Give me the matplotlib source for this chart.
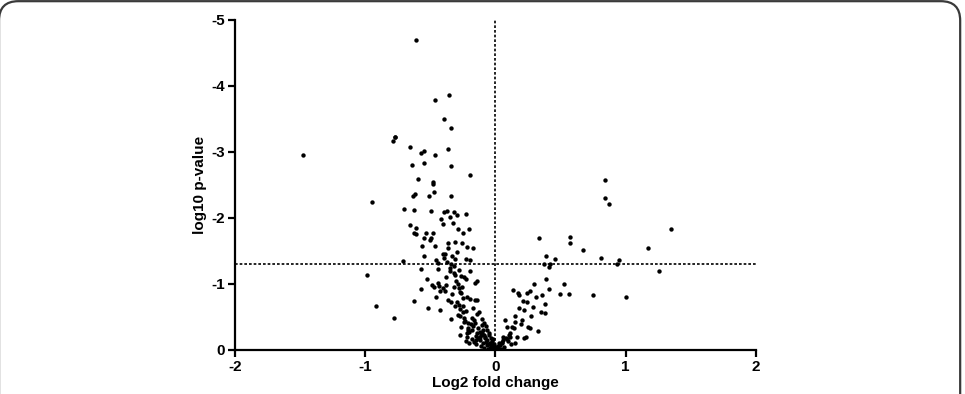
import matplotlib
matplotlib.use("Agg")
import matplotlib.pyplot as plt
from matplotlib.patches import FancyBboxPatch

plt.rcParams['font.family'] = ['Liberation Sans', 'DejaVu Sans']

# log2 fold change / log10 p-value pairs
log2_fc = [
    -0.609, -0.353, -0.46, -0.396, -0.338, -0.772,
    -0.77, -0.785, -0.657, -0.545, -0.568, -0.363, -0.465, -0.637, -0.547, -0.338,
    -0.194, -0.591, -0.48, -0.48, -0.613, -0.629, -0.47, -0.511, -0.342, -0.944,
    -0.698, -0.624, -0.496, -0.394, -0.368, -0.319, -0.296, -0.223, -0.345, -0.419,
    -0.404, -0.325, -0.657, -0.609, -0.286, -0.202, -0.624, -0.609, -0.532, -0.476,
    -0.246, -0.55, -0.501, -0.491, -0.363, -0.309, -0.253,
    -0.56, -0.465, -0.36, -0.22, -0.169, -0.547, -0.383, -0.391, -0.296, -0.33,
    -0.309, -0.227, -0.194, -0.453, -0.442, -0.711, -0.368, -0.342, -0.317,
    -0.982, -0.568, -0.526, -0.573, -0.488, -0.442, -0.43, -0.47, -0.401, -0.424,
    -0.388, -0.378, -0.348, -0.309, -0.276, -0.261, -0.24, -0.227, -0.194, -0.143,
    -0.153, -0.317, -0.258, -0.281, -0.455, -0.342, -0.296, -0.281, -0.246, -0.22,
    -0.194, -0.156, -0.138, -0.171, -0.624, -0.916, -0.514, -0.421, -0.271, -0.246,
    -0.225, -0.271, -0.127, -0.78, -0.34, -0.24, -0.207, -0.156, -0.104, -0.087,
    -0.13, -0.097, -0.066, -0.143, -0.112, -0.079, -0.046, -0.271, -0.22, -0.225,
    -0.148, -0.117, -0.061, -0.028, -0.092, -0.028, -0.002, 0.01, -0.04, -0.066,
    -1.478,
    -0.18, -0.17, -0.2, -0.21, -0.16, -0.12, -0.1, -0.09, -0.08, -0.07, -0.05,
    -0.04, -0.03, -0.02, -0.06, -0.11, -0.13, -0.15, -0.19, -0.23, -0.26, -0.29,
    -0.31, -0.33, -0.36, -0.25, -0.18, -0.14, -0.1, -0.07, -0.05, -0.02, -0.01,
    -0.12, -0.16, -0.2, -0.22, -0.27, -0.3, -0.35, -0.38, -0.4, -0.44, -0.32,
    -0.29, -0.26, -0.24, -0.21, -0.18, -0.15, -0.09, -0.04,
    0.335, 0.573, 0.573, 0.673, 0.391, 0.46, 0.376, 0.422, 0.41, 0.387, 0.30,
    0.527, 0.414, 0.50, 0.568, 0.75, 0.136, 0.172, 0.18, 0.246, 0.269, 0.315,
    0.361, 0.215, 0.246, 0.287, 0.379, 0.18, 0.218, 0.353, 0.379, 0.274, 0.149,
    0.072, 0.203, 0.149, 0.195, 0.087, 0.128, 0.144, 0.253, 0.269, 0.325, 0.115,
    0.113, 0.103, 0.236, 0.223, 0.164, 0.08, 0.061, 0.151, 0.051, 0.036, 0.011,
    -0.015, -0.035, -0.028, 0.023, -0.002,
    0.845, 0.845, 0.875, 1.348, 1.174, 0.811, 0.947, 0.937, 1.254, 1.003,
    0.02, 0.03, 0.05, 0.06, 0.09, 0.04, 0.07, 0.12, 0.1, 0.015,
]
log10_p = [
    -4.70, -3.86, -3.79, -3.50, -3.36, -3.22,
    -3.23, -3.17, -3.07, -3.02, -2.98, -3.04, -2.95, -2.80, -2.83, -2.79,
    -2.65, -2.59, -2.54, -2.51, -2.37, -2.34, -2.39, -2.33, -2.33, -2.24,
    -2.14, -2.12, -2.10, -2.09, -2.10, -2.09, -2.04, -2.06, -2.02, -1.98,
    -1.91, -1.93, -1.90, -1.85, -1.84, -1.84, -1.77, -1.75, -1.77, -1.78,
    -1.77, -1.69, -1.67, -1.69, -1.62, -1.63, -1.62,
    -1.57, -1.57, -1.55, -1.56, -1.54, -1.43, -1.45, -1.39, -1.48, -1.42,
    -1.38, -1.38, -1.37, -1.36, -1.32, -1.35, -1.33, -1.31, -1.28,
    -1.13, -1.23, -1.07, -0.92, -0.99, -1.02, -0.97, -0.96, -0.94, -0.90,
    -0.89, -1.10, -1.19, -1.14, -1.21, -1.12, -1.10, -1.07, -1.19, -1.04,
    -1.01, -0.96, -0.96, -0.94, -0.81, -0.72, -0.72, -0.68, -0.79, -0.81,
    -0.78, -0.75, -0.76, -0.63, -0.74, -0.67, -0.63, -0.60, -0.62, -0.58,
    -0.59, -0.51, -0.57, -0.49, -0.47, -0.42, -0.41, -0.41, -0.38, -0.41,
    -0.34, -0.31, -0.30, -0.25, -0.23, -0.20, -0.23, -0.23, -0.20, -0.14,
    -0.15, -0.15, -0.15, -0.13, -0.10, -0.06, -0.05, -0.03, -0.03, -0.08,
    -2.96,
    -0.30, -0.36, -0.27, -0.33, -0.45, -0.28, -0.26, -0.22, -0.18, -0.12, -0.09,
    -0.11, -0.07, -0.04, -0.02, -0.06, -0.18, -0.21, -0.39, -0.44, -0.35, -0.53,
    -0.66, -0.85, -0.76, -0.66, -0.49, -0.55, -0.47, -0.36, -0.26, -0.17, -0.09,
    -0.19, -0.12, -0.10, -0.25, -0.88, -1.05, -1.24, -0.99, -1.46, -1.22, -1.16,
    -1.00, -0.86, -0.48, -0.30, -0.16, -0.09, -0.03, -0.01,
    -1.70, -1.71, -1.62, -1.52, -1.42, -1.38, -1.31, -1.30, -1.26, -1.07, -1.00,
    -1.00, -0.93, -0.85, -0.85, -0.83, -0.91, -0.86, -0.84, -0.86, -0.90, -0.81,
    -0.83, -0.74, -0.72, -0.65, -0.69, -0.63, -0.61, -0.58, -0.56, -0.52, -0.51,
    -0.46, -0.45, -0.43, -0.39, -0.35, -0.35, -0.33, -0.35, -0.33, -0.29, -0.25,
    -0.20, -0.23, -0.20, -0.18, -0.20, -0.18, -0.15, -0.11, -0.11, -0.08, -0.05,
    -0.06, -0.18, -0.08, -0.03, -0.01,
    -2.58, -2.30, -2.21, -1.84, -1.54, -1.40, -1.36, -1.31, -1.19, -0.80,
    -0.06, -0.10, -0.12, -0.2, -0.16, -0.02, -0.04, -0.09, -0.14, -0.01,
]

x_ticks = [-2, -1, 0, 1, 2]
y_ticks = [0, -1, -2, -3, -4, -5]
p_threshold = -1.3
fc_threshold = 0

fig = plt.figure(figsize=(9.65, 3.94), dpi=100)

border = FancyBboxPatch((-0.001, -0.05), 0.996, 1.047,
                        boxstyle="round,pad=0,rounding_size=0.02",
                        transform=fig.transFigure, fill=False,
                        edgecolor="#3a3a3a", linewidth=1.6,
                        mutation_aspect=965 / 394)
fig.patches.append(border)

ax = fig.add_axes([0.2432, 0.1117, 0.5402, 0.8376])
ax.scatter(log2_fc, log10_p, s=10, color="black", linewidths=0, zorder=3)
ax.axhline(p_threshold, color="black", lw=1.2, ls=(0, (1.6, 1.2)), zorder=2)
ax.axvline(fc_threshold, color="black", lw=1.2, ls=(0, (1.6, 1.2)), zorder=2)

ax.set_xlim(-2, 2)
ax.set_ylim(0, -5)
ax.set_xticks(x_ticks)
ax.set_yticks(y_ticks)
ax.set_xticklabels([str(t) for t in x_ticks], fontsize=11, fontweight="bold")
ax.set_yticklabels([str(t) for t in y_ticks], fontsize=11, fontweight="bold")
for s in ["top", "right"]:
    ax.spines[s].set_visible(False)
for s in ["left", "bottom"]:
    ax.spines[s].set_linewidth(1.6)
ax.tick_params(direction="out", length=5, width=1.6, pad=2)
ax.set_xlabel("Log2 fold change", fontsize=11, fontweight="bold", labelpad=2)
ax.set_ylabel("log10 p-value", fontsize=11, fontweight="bold", labelpad=3)

fig.savefig("out.png", dpi=100)
